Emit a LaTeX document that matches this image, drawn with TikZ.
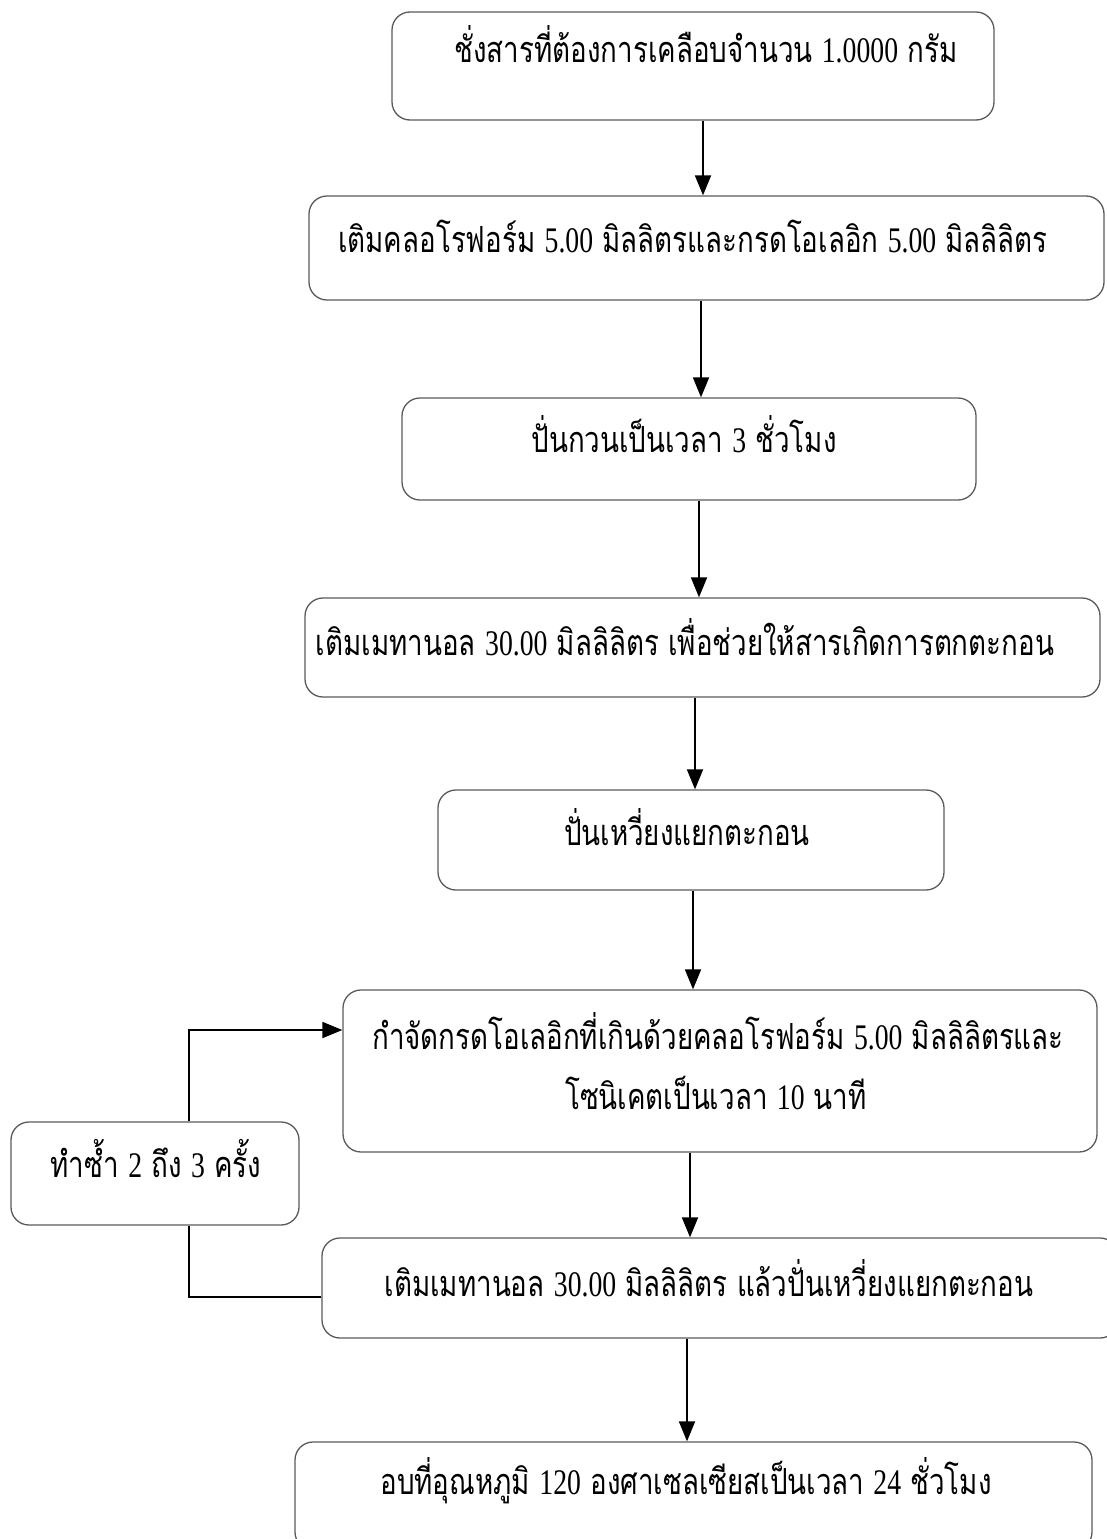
\documentclass[tikz,border=0pt]{standalone}
\usepackage{fontspec}
\setmainfont{Liberation Serif}
\newfontfamily\thaifont[Script=Thai]{Loma}
\usetikzlibrary{arrows.meta}
\newcommand{\nm}[1]{{\rmfamily #1}}
\newcommand{\txs}{0.77}
\newcommand{\T}[1]{\scalebox{\txs}[1]{#1}}
\definecolor{boxgray}{HTML}{5A5A5A}
\begin{document}
\begin{tikzpicture}[x=1pt,y=-1pt,
  box/.style={draw=boxgray, line width=1.3pt, rounded corners=18pt, inner sep=0pt},
  txt/.style={font=\thaifont\fontsize{36}{42}\selectfont, inner sep=0pt, anchor=base},
  arr/.style={line width=1.8pt, -{Triangle[length=20pt,width=16pt]}},
  link/.style={line width=1.8pt}]
\useasboundingbox (0,0) rectangle (1107,1539);
% boxes
\node[box, minimum width=602pt, minimum height=108pt] (b1) at (693,66) {};
\node[box, minimum width=795pt, minimum height=104pt] (b2) at (706.5,248) {};
\node[box, minimum width=574pt, minimum height=102pt] (b3) at (689,449) {};
\node[box, minimum width=795pt, minimum height=99pt] (b4) at (702.5,647.5) {};
\node[box, minimum width=506pt, minimum height=100pt] (b5) at (691,840) {};
\node[box, minimum width=754pt, minimum height=162pt] (b6) at (720,1071) {};
\node[box, minimum width=796pt, minimum height=100pt] (b7) at (720,1288) {};
\node[box, minimum width=797pt, minimum height=108pt] (b8) at (693.5,1496) {};
\node[box, minimum width=288pt, minimum height=103pt] (s1) at (155,1173.5) {};
% texts
\node[txt] (t1) at (706,62) {\T{ชั่งสารที่ต้องการเคลือบจำนวน \nm{1.0000} กรัม}};
\node[txt] (t2) at (693,252) {\T{เติมคลอโรฟอร์ม \nm{5.00} มิลลิตรและกรดโอเลอิก \nm{5.00} มิลลิลิตร}};
\node[txt] (t3) at (684,452) {\T{ปั่นกวนเป็นเวลา \nm{3} ชั่วโมง}};
\node[txt] (t4) at (685,655) {\T{เติมเมทานอล \nm{30.00} มิลลิลิตร เพื่อช่วยให้สารเกิดการตกตะกอน}};
\node[txt] (t5) at (687,845) {\T{ปั่นเหวี่ยงแยกตะกอน}};
\node[txt] (t6a) at (718,1049) {\T{กำจัดกรดโอเลอิกที่เกินด้วยคลอโรฟอร์ม \nm{5.00} มิลลิลิตรและ}};
\node[txt] (t6b) at (716,1109) {\T{โซนิเคตเป็นเวลา \nm{10} นาที}};
\node[txt] (t7) at (709,1296) {\T{เติมเมทานอล \nm{30.00} มิลลิลิตร แล้วปั่นเหวี่ยงแยกตะกอน}};
\node[txt] (t8) at (686,1494) {\T{อบที่อุณหภูมิ \nm{120} องศาเซลเซียสเป็นเวลา \nm{24} ชั่วโมง}};
\node[txt] (ts) at (156,1177) {\T{ทำซ้ำ \nm{2} ถึง \nm{3} ครั้ง}};
% arrows
\draw[arr] (703,0 |- b1.south) -- (703,0 |- b2.north);
\draw[arr] (701,0 |- b2.south) -- (701,0 |- b3.north);
\draw[arr] (699,0 |- b3.south) -- (699,0 |- b4.north);
\draw[arr] (695,0 |- b4.south) -- (695,0 |- b5.north);
\draw[arr] (693,0 |- b5.south) -- (693,0 |- b6.north);
\draw[arr] (690,0 |- b6.south) -- (690,0 |- b7.north);
\draw[arr] (687,0 |- b7.south) -- (687,0 |- b8.north);
% loop
\draw[link] (b7.west |- 0,1297) -- (189,1297) -- (189,0 |- s1.south);
\draw[arr] (189,0 |- s1.north) -- (189,1030) -- (b6.west |- 0,1030);
\end{tikzpicture}
\end{document}
